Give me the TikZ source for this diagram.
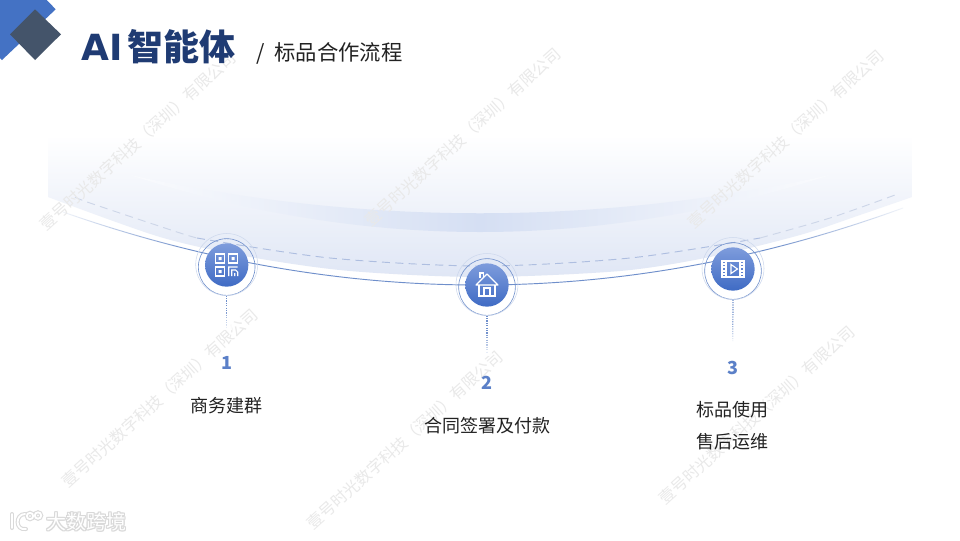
\documentclass[tikz,border=0pt]{standalone}
\usepackage{fontspec}
\usetikzlibrary{fadings,calc}
\newfontfamily\cjk{Noto Sans CJK SC}
\newfontfamily\latinbold{DejaVu Sans}
\setmainfont{Noto Sans CJK SC}
\definecolor{logoblue}{HTML}{4472C4}
\definecolor{logoslate}{HTML}{44546A}
\definecolor{titleblue}{HTML}{1F3B73}
\definecolor{numblue}{HTML}{5B80C8}
\definecolor{linkblue}{HTML}{6F8FCB}
\definecolor{bandlow}{HTML}{DFE6F5}
\definecolor{creslow}{HTML}{D5DFF3}
\definecolor{dashblue}{HTML}{AEBEE0}
\definecolor{dashpale}{HTML}{CDD6E8}
\definecolor{disktop}{HTML}{7E9CDC}
\definecolor{diskbot}{HTML}{3F6BC4}
\definecolor{txt}{HTML}{222222}
\definecolor{wm}{HTML}{E9E9E9}
\tikzfading[name=fadeR,left color=transparent!0,right color=transparent!100]
\tikzfading[name=fadeL,left color=transparent!100,right color=transparent!0]
\tikzfading[name=fadeU,bottom color=transparent!0,top color=transparent!100]
\tikzset{
  x=0.75pt,y=-0.75pt,
  diskfill/.style={circle,minimum size=32.5pt,inner sep=0pt,shade,shading angle=35,top color=disktop,bottom color=diskbot},
  ringin/.style={circle,minimum size=42.5pt,inner sep=0pt,draw=linkblue,line width=.45pt},
  ringout/.style={circle,minimum size=46.5pt,inner sep=0pt,draw=linkblue!35!white,line width=.4pt},
  num/.style={font=\cjk\bfseries\fontsize{13.5pt}{16pt}\selectfont,text=numblue,inner sep=0pt},
  body/.style={font=\cjk\fontsize{13.5pt}{18pt}\selectfont,text=txt,inner sep=0pt},
  mark wm/.style={font=\cjk\fontsize{12pt}{14pt}\selectfont,text=wm,rotate=42,inner sep=0pt},
  dotline/.style={draw=linkblue,line width=.9pt,dash pattern=on .9pt off .9pt},
  icon/.style={draw=white,line width=.85pt,line join=miter},
  foot/.style={font=\cjk\fontsize{15pt}{18pt}\selectfont,inner sep=0pt},
  dashedarc/.style={line width=.7pt,dash pattern=on 6pt off 4pt},
}
\begin{document}
\begin{tikzpicture}
\useasboundingbox (0,0) rectangle (960,540);
\fill[white] (0,0) rectangle (960,540);
% link line, faded at both ends
\draw[linkblue,line width=.7pt] (63,212) .. controls (343,310) and (623,310) .. (903,208);
\fill[white,path fading=fadeR] (50,190) rectangle (190,262);
\fill[white,path fading=fadeL] (770,190) rectangle (915,262);
% band
\begin{scope}
\clip (48,130) -- plot[smooth] coordinates {(48,197)(160,237)(250,257)(350,271)(480,277)(620,271)(710,257)(800,235)(860,215)(912,197)} -- (912,130) -- cycle;
\shade[top color=white,bottom color=bandlow] (48,135) rectangle (912,280);
\shade[left color=bandlow!15!white,right color=bandlow!15!white,middle color=creslow]
  (130,175) .. controls (363,226) and (597,226) .. (830,175)
  .. controls (597,251) and (363,251) .. (130,175) -- cycle;
\end{scope}
% dashed arc
\draw[dashpale,dashedarc] plot[smooth] coordinates {(75,197)(90,203)(177,232)(197,238)};
\draw[dashblue,dashedarc] plot[smooth] coordinates {(197,238)(330,258)(482,266)(630,258)(760,238)};
\draw[dashpale,dashedarc] plot[smooth] coordinates {(760,238)(830,218)(895,195)};
% watermarks
\foreach \wx/\wy/\wn in {138/141/a,463/137/b,786/139/c,160/398/d,405/440/e,757/415/f}
  \node[mark wm] (w\wn) at (\wx,\wy) {壹号时光数字科技（深圳）有限公司};
% logo
\fill[logoblue] (46.7,0) -- (55.7,9.3) -- (2,60) -- (0,58) -- (0,0) -- cycle;
\fill[logoslate] (35,9.3) -- (61,34.3) -- (35,60) -- (10,34.3) -- cycle;
% title
\node[anchor=west,inner sep=0pt,text=titleblue,font=\cjk\bfseries\fontsize{27pt}{30pt}\selectfont] (title) at (81.5,47) {{\latinbold AI}\hspace{3pt}智能体};
\node[anchor=west,inner sep=0pt,text=txt,font=\cjk\fontsize{16pt}{20pt}\selectfont] (sub) at (256.5,53) {/\hspace{3.5pt} 标品合作流程};
% discs and rings
\node[diskfill] (d1) at (226.7,265) {};
\node[ringin] (r1) at (226.7,267) {};
\node[ringout] at (226.7,264.5) (q1) {};
\node[diskfill] (d2) at (487,285) {};
\node[ringin] (r2) at (487,287) {};
\node[ringout] at (487,284.5) (q2) {};
\node[diskfill] (d3) at (733,269) {};
\node[ringin] (r3) at (733,271) {};
\node[ringout] at (733,268.5) (q3) {};
% dotted connectors
\coordinate (e1) at (226.7,328);
\coordinate (e2) at (487,354);
\coordinate (e3) at (732.7,341);
\draw[dotline] (r1.south) -- (e1);
\draw[dotline] (r2.south) -- (e2);
\draw[dotline] (r3.south) -- (e3);
\fill[white,path fading=fadeU] (222,310) rectangle (232,330);
\fill[white,path fading=fadeU] (482,332) rectangle (492,356);
\fill[white,path fading=fadeU] (728,318) rectangle (738,343);
% icons
\begin{scope}[shift={(d1)}]
\draw[icon] (-11,-11) rectangle (-2,-2);
\draw[icon] (2,-11) rectangle (11,-2);
\draw[icon] (-11,2) rectangle (-2,11);
\fill[white] (-8,-8) rectangle (-5,-5) (5,-8) rectangle (8,-5) (-8,5) rectangle (-5,8);
\draw[icon] (2,11) -- (2,2) -- (11,2) (5,11) -- (5,5) -- (9,5) -- (11,7) -- (11,11) (8,11) -- (8,8);
\end{scope}
\begin{scope}[shift={(d2)}]
\draw[icon,line join=round] (-11,0) -- (0,-11) -- (11,0) -- cycle;
\draw[icon] (-7,-7) -- (-7,-12) -- (-3.5,-12) -- (-3.5,-8);
\draw[icon] (-8,0) -- (-8,11) -- (8,11) -- (8,0);
\draw[icon] (-3,11) -- (-3,3) -- (3,3) -- (3,11);
\end{scope}
\begin{scope}[shift={(d3)}]
\draw[icon] (-11,-8) rectangle (11,8);
\draw[icon] (-7,-8) -- (-7,8) (7,-8) -- (7,8);
\foreach \yy in {-5,-1.7,1.7,5} {
  \fill[white] (-10.5,\yy-.9) rectangle (-7.5,\yy+.9);
  \fill[white] (7.5,\yy-.9) rectangle (10.5,\yy+.9);
}
\draw[icon] (-2,-4.5) -- (4.5,0) -- (-2,4.5) -- cycle;
\end{scope}
% labels
\node[num] (n1) at (226.5,362.5) {1};
\node[num] (n2) at (487,382.5) {2};
\node[num] (n3) at (732.5,367.5) {3};
\node[body] (t1) at (226.5,406) {商务建群};
\node[body] (t2) at (487,426) {合同签署及付款};
\node[body] (t3) at (732.5,410) {标品使用};
\node[body] (t4) at (732.5,442) {售后运维};
% footer mark
\foreach \ox/\oy in {-1/0,1/0,0/-1,0/1,-1/-1,1/1,-1/1,1/-1}
  \node[foot,text=black!15] at (86+\ox,522+\oy) {大数跨境};
\node[foot,text=white] (ft) at (86,522) {大数跨境};
\foreach \cc/\ww in {black!15/3.0,white/1.4} {
  \draw[\cc,line width=\ww pt,line cap=round] (12,514) -- (12,528);
  \draw[\cc,line width=\ww pt,line cap=round] (25,514) .. controls (15,514) and (15,531) .. (26,529);
  \draw[\cc,line width=\ww pt] (30,516) circle (3.2) (38,515.5) circle (3.2);
}
\end{tikzpicture}
\end{document}
